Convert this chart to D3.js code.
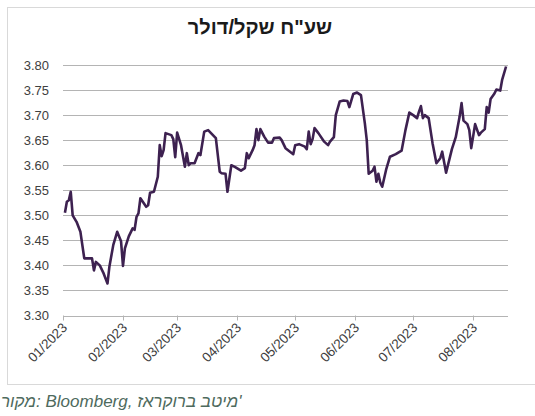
<!DOCTYPE html>
<html><head><meta charset="utf-8">
<script src="https://cdn.jsdelivr.net/npm/d3@7"></script>
<style>
html,body{margin:0;padding:0;background:#fff;}
svg{display:block;}
</style></head>
<body>
<svg id="c" width="535" height="416"></svg>
<script>
const dates = ["2023-01-02","2023-01-03","2023-01-04","2023-01-05","2023-01-06","2023-01-08","2023-01-10","2023-01-12","2023-01-14","2023-01-16","2023-01-17","2023-01-18","2023-01-20","2023-01-22","2023-01-24","2023-01-25","2023-01-27","2023-01-29","2023-01-31",
"2023-02-01","2023-02-02","2023-02-04","2023-02-06","2023-02-07","2023-02-08","2023-02-09","2023-02-10","2023-02-13","2023-02-14","2023-02-15","2023-02-17","2023-02-19","2023-02-20","2023-02-21","2023-02-22","2023-02-23","2023-02-26","2023-02-27","2023-02-28",
"2023-03-01","2023-03-03","2023-03-05","2023-03-06","2023-03-07","2023-03-08","2023-03-10","2023-03-12","2023-03-13","2023-03-15","2023-03-17","2023-03-21","2023-03-23","2023-03-24","2023-03-26","2023-03-27","2023-03-29","2023-03-31",
"2023-04-03","2023-04-05","2023-04-06","2023-04-07","2023-04-09","2023-04-10","2023-04-11","2023-04-12","2023-04-13","2023-04-15","2023-04-17","2023-04-19","2023-04-20","2023-04-23","2023-04-24","2023-04-26","2023-04-28","2023-04-30",
"2023-05-01","2023-05-03","2023-05-06","2023-05-07","2023-05-08","2023-05-09","2023-05-10","2023-05-11","2023-05-13","2023-05-16","2023-05-18","2023-05-19","2023-05-21","2023-05-22","2023-05-24","2023-05-26","2023-05-28","2023-05-29","2023-05-31",
"2023-06-02","2023-06-04","2023-06-06","2023-06-07","2023-06-08","2023-06-10","2023-06-11","2023-06-12","2023-06-13","2023-06-14","2023-06-15","2023-06-17","2023-06-19","2023-06-22","2023-06-25","2023-06-27","2023-06-29",
"2023-07-01","2023-07-03","2023-07-04","2023-07-05","2023-07-06","2023-07-07","2023-07-09","2023-07-11","2023-07-13","2023-07-15","2023-07-16","2023-07-18","2023-07-21","2023-07-23","2023-07-25","2023-07-26","2023-07-27","2023-07-29","2023-07-30","2023-07-31",
"2023-08-02","2023-08-04","2023-08-05","2023-08-07","2023-08-08","2023-08-09","2023-08-10","2023-08-12","2023-08-13","2023-08-15","2023-08-16","2023-08-18"];
const rates = [3.505,3.527,3.530,3.547,3.500,3.487,3.467,3.414,3.414,3.414,3.390,3.407,3.400,3.384,3.364,3.398,3.441,3.467,3.448,
3.399,3.434,3.458,3.474,3.471,3.497,3.504,3.534,3.517,3.520,3.545,3.547,3.577,3.640,3.618,3.630,3.664,3.660,3.652,3.616,
3.665,3.640,3.597,3.624,3.600,3.604,3.604,3.624,3.620,3.667,3.670,3.654,3.587,3.584,3.583,3.547,3.600,3.596,
3.589,3.594,3.624,3.614,3.630,3.640,3.672,3.650,3.672,3.657,3.645,3.645,3.654,3.655,3.650,3.634,3.628,3.622,
3.640,3.642,3.637,3.632,3.667,3.642,3.652,3.674,3.664,3.647,3.640,3.647,3.656,3.700,3.727,3.729,3.728,3.716,3.742,
3.745,3.740,3.684,3.650,3.583,3.589,3.597,3.567,3.583,3.565,3.557,3.591,3.617,3.622,3.629,3.670,3.705,
3.700,3.694,3.707,3.718,3.694,3.700,3.694,3.644,3.604,3.614,3.627,3.585,3.632,3.656,3.697,3.724,3.689,3.682,3.670,3.634,
3.682,3.660,3.665,3.672,3.716,3.705,3.732,3.743,3.751,3.749,3.771,3.797];
const monthTicks = ["2023-01-01","2023-02-01","2023-03-01","2023-04-01","2023-05-01","2023-06-01","2023-07-01","2023-08-01"];
const monthLabels = ["01/2023","02/2023","03/2023","04/2023","05/2023","06/2023","07/2023","08/2023"];
const yTicks = [3.30,3.35,3.40,3.45,3.50,3.55,3.60,3.65,3.70,3.75,3.80];
const xDomain = ["2023-01-01","2023-08-19"];
const title = "שע\"ח שקל/דולר";
const source = "מקור: Bloomberg, מיטב ברוקראז'";

const parse = d3.utcParse("%Y-%m-%d");
const svg = d3.select("#c");
const font = "'Liberation Sans', Arial, 'DejaVu Sans', sans-serif";
const L = 63, R = 508, T = 65, B = 315.5;

// frame
svg.append("rect").attr("x",7.5).attr("y",7.5).attr("width",540).attr("height",377)
  .attr("fill","#fff").attr("stroke","#d9d9d9").attr("stroke-width",1);

const x = d3.scaleUtc().domain(xDomain.map(parse)).range([L,R]);
const y = d3.scaleLinear().domain([3.30,3.80]).range([B,T]);

// gridlines
svg.append("g").selectAll("line").data(yTicks).join("line")
  .attr("x1",L).attr("x2",R)
  .attr("y1",d=>Math.round(y(d))+0.5).attr("y2",d=>Math.round(y(d))+0.5)
  .attr("stroke","#b4b4b4").attr("stroke-width",1);

// y labels
svg.append("g").selectAll("text").data(yTicks).join("text")
  .attr("x",49).attr("y",d=>y(d)).attr("dy","0.35em")
  .attr("text-anchor","end").attr("font-family",font).attr("font-size",13)
  .attr("fill","#404040").text(d=>d3.format(".2f")(d));

// x ticks
const mt = monthTicks.map(parse);
svg.append("g").selectAll("line").data(mt).join("line")
  .attr("x1",d=>Math.round(x(d))+0.5).attr("x2",d=>Math.round(x(d))+0.5)
  .attr("y1",B).attr("y2",B+5).attr("stroke","#b4b4b4");

svg.append("g").selectAll("text").data(mt).join("text")
  .attr("transform",(d)=>`translate(${x(d)+5},${B+13}) rotate(-45)`)
  .attr("text-anchor","end").attr("font-family",font).attr("font-size",13.5)
  .attr("fill","#404040").text((d,i)=>monthLabels[i]);

// line
const pts = dates.map((d,i)=>({d:parse(d), v:rates[i]}));
svg.append("path").datum(pts)
  .attr("fill","none").attr("stroke","#3d2150").attr("stroke-width",2.6)
  .attr("stroke-linejoin","round")
  .attr("d", d3.line().x(p=>x(p.d)).y(p=>y(p.v)));

// title
svg.append("text").attr("x",260).attr("y",34).attr("text-anchor","middle")
  .attr("font-family",font).attr("font-weight","bold").attr("font-size",20)
  .attr("fill","#1a1a1a").text(title);

// source
svg.append("text").attr("x",1).attr("y",407).attr("text-anchor","start")
  .attr("font-family",font).attr("font-style","italic").attr("font-size",17)
  .attr("fill","#4e6a5d").text(source);
</script>
</body></html>
